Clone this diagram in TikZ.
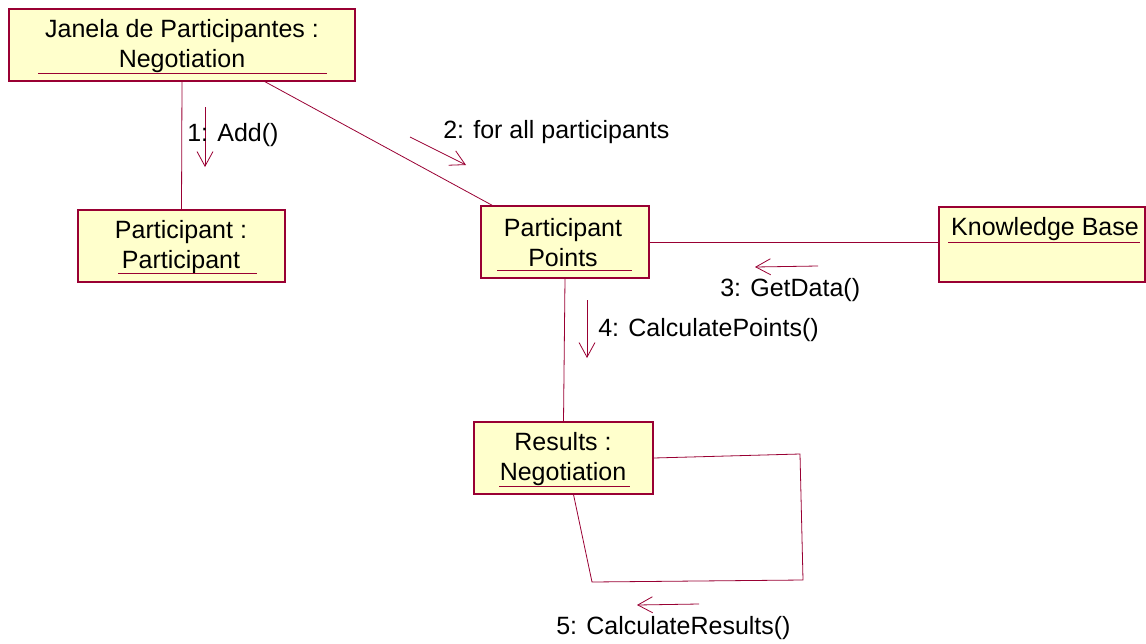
\documentclass[tikz,border=0pt]{standalone}
\usepackage{fontspec}
\setmainfont{Liberation Sans}
\usetikzlibrary{fit,arrows.meta}
\definecolor{rose}{RGB}{153,0,51}
\definecolor{note}{RGB}{255,255,204}
\begin{document}
\begin{tikzpicture}[x=0.75pt,y=-0.75pt,
  txt/.style={font=\fontsize{18.75}{22.5}\selectfont},
  objbox/.style={draw=rose, fill=note, line width=0.8pt, inner sep=0pt},
  objname/.style={txt, inner sep=0pt, align=center},
  link/.style={draw=rose, line width=0.6pt},
  uline/.style={draw=rose, line width=0.6pt},
  msg/.style={draw=rose, line width=0.6pt, -{Straight Barb[length=11pt,width=12pt]}},
  lbl/.style={txt, inner sep=0pt, anchor=west}]
\useasboundingbox (0,0) rectangle (1146,643);

% objects
\node[objbox, fit={(9,9) (355,81)}] (jan) {};
\node[objbox, fit={(78,210) (285,282)}] (part) {};
\node[objbox, fit={(481,206) (649,278)}] (pp) {};
\node[objbox, fit={(939,207) (1145,282)}] (kb) {};
\node[objbox, fit={(474,422) (653,494)}] (res) {};

% object names
\node[objname] (janname) at (182,46) {Janela de Participantes :\\Negotiation};
\node[objname] (partname) at (181,247) {Participant :\\Participant};
\node[objname] (ppname) at (563,243) {Participant\\Points};
\node[objname] (kbname) at (1045,229) {Knowledge Base};
\node[objname] (resname) at (563,459) {Results :\\Negotiation};

% underlined object names
\draw[uline] (38,73) -- (327,73);
\draw[uline] (118,273) -- (257,273);
\draw[uline] (497,270) -- (632,270);
\draw[uline] (948,242) -- (1140,242);
\draw[uline] (499,486) -- (630,486);

% links
\draw[link] (jan.south) -- (part.north);
\draw[link] ([xshift=62pt]jan.south) -- ([xshift=9pt]pp.north west);
\draw[link] (pp.east) -- (pp.east -| kb.west);
\draw[link] (pp.south) -- (res.north);
\draw[link] (res.east) -- (800,454) -- (803,580) -- (592,582) -- ([xshift=7.5pt]res.south);

% messages
\draw[msg] (205,107) -- (205,167);
\node[lbl] (m1) at (187,135) {1: Add()};
\draw[msg] (410,137) -- (466,165);
\node[lbl] (m2) at (443,132) {2: for all participants};
\draw[msg] (818,266) -- (755,267);
\node[lbl] (m3) at (720,290) {3: GetData()};
\draw[msg] (587,300) -- (587,358);
\node[lbl] (m4) at (598,330) {4: CalculatePoints()};
\draw[msg] (699,604) -- (637,605);
\node[lbl] (m5) at (556,628) {5: CalculateResults()};
\end{tikzpicture}
\end{document}
